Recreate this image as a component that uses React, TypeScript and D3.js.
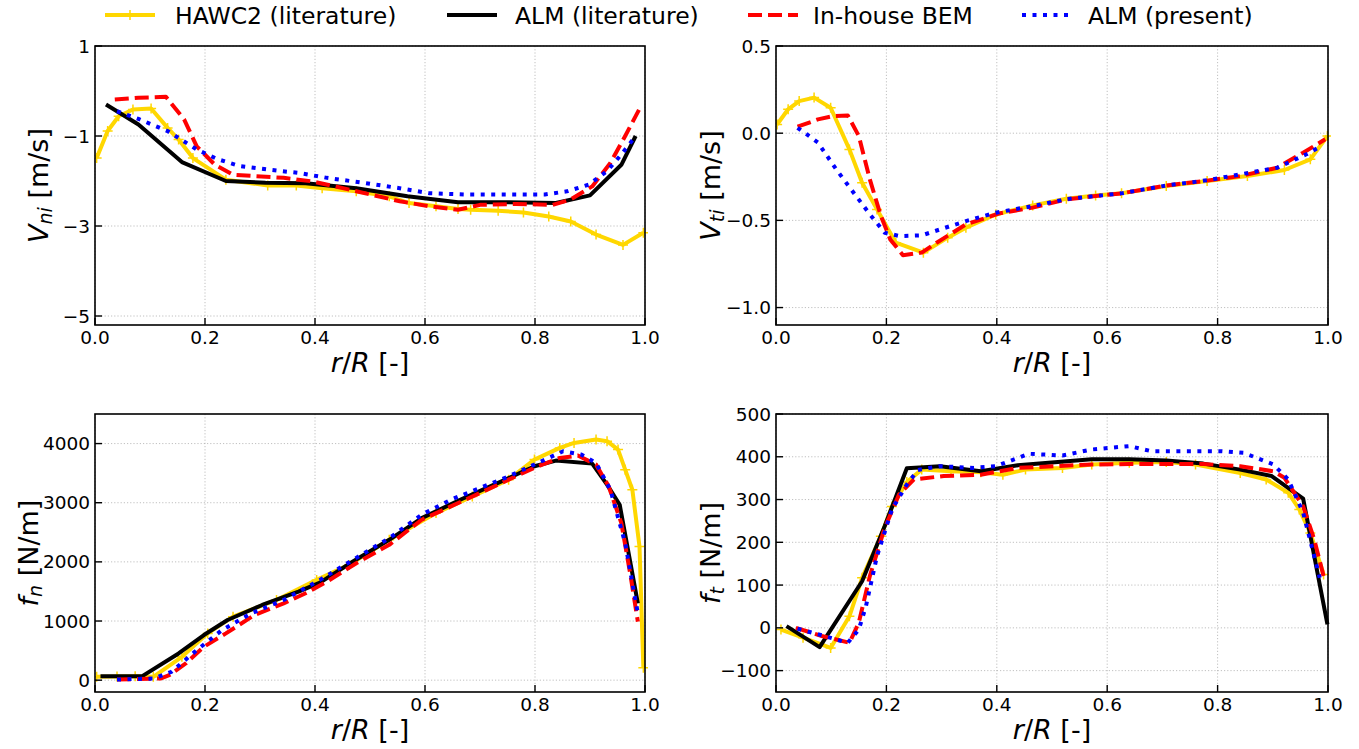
import React, { useEffect } from "react";
import * as d3 from "d3";

// ---------- DATA ----------
const xTicks = [0, 0.2, 0.4, 0.6, 0.8, 1.0];
const xTickLabels = ["0.0", "0.2", "0.4", "0.6", "0.8", "1.0"];

const seriesNames = ["HAWC2 (literature)", "ALM (literature)", "In-house BEM", "ALM (present)"];

// Vni
const vniHawcR = [0.003, 0.023, 0.043, 0.069, 0.102, 0.132, 0.152, 0.178, 0.238, 0.314, 0.366, 0.413, 0.475, 0.535, 0.571, 0.62, 0.66, 0.683, 0.733, 0.779, 0.825, 0.865, 0.911, 0.96, 0.997];
const vniHawcV = [-1.49, -0.89, -0.56, -0.41, -0.39, -0.82, -1.08, -1.49, -1.97, -2.1, -2.1, -2.16, -2.23, -2.34, -2.49, -2.56, -2.62, -2.64, -2.66, -2.7, -2.79, -2.9, -3.19, -3.42, -3.15];
const vniAlmLitR = [0.02, 0.079, 0.158, 0.238, 0.31, 0.383, 0.475, 0.568, 0.66, 0.752, 0.838, 0.9, 0.957, 0.983];
const vniAlmLitV = [-0.3, -0.745, -1.58, -2.0, -2.04, -2.05, -2.16, -2.34, -2.47, -2.47, -2.49, -2.32, -1.64, -1.0];
const vniBemR = [0.036, 0.079, 0.129, 0.162, 0.185, 0.218, 0.251, 0.343, 0.396, 0.469, 0.554, 0.607, 0.66, 0.7, 0.766, 0.832, 0.865, 0.904, 0.937, 0.964, 0.989];
const vniBemV = [-0.19, -0.15, -0.13, -0.63, -1.23, -1.64, -1.86, -1.93, -2.01, -2.21, -2.45, -2.56, -2.64, -2.53, -2.51, -2.53, -2.41, -2.12, -1.6, -1.0, -0.42];
const vniAlmR = [0.04, 0.079, 0.132, 0.185, 0.224, 0.264, 0.317, 0.37, 0.422, 0.488, 0.554, 0.607, 0.673, 0.752, 0.818, 0.858, 0.898, 0.931, 0.957, 0.983];
const vniAlmV = [-0.45, -0.62, -0.89, -1.3, -1.52, -1.67, -1.75, -1.82, -1.93, -2.04, -2.16, -2.27, -2.3, -2.3, -2.3, -2.23, -2.08, -1.78, -1.41, -1.0];

// Vti
const vtiHawcR = [0.002, 0.022, 0.042, 0.069, 0.099, 0.133, 0.156, 0.183, 0.217, 0.267, 0.311, 0.344, 0.398, 0.465, 0.526, 0.579, 0.626, 0.707, 0.781, 0.854, 0.921, 0.968, 0.999];
const vtiHawcV = [0.05, 0.137, 0.184, 0.204, 0.146, -0.093, -0.284, -0.437, -0.628, -0.685, -0.599, -0.542, -0.466, -0.414, -0.376, -0.357, -0.345, -0.303, -0.274, -0.246, -0.211, -0.15, -0.016];
const vtiBemR = [0.039, 0.076, 0.103, 0.13, 0.15, 0.17, 0.19, 0.207, 0.23, 0.264, 0.291, 0.344, 0.405, 0.465, 0.526, 0.579, 0.626, 0.707, 0.781, 0.841, 0.908, 0.955, 0.995];
const vtiBemV = [0.037, 0.079, 0.098, 0.102, -0.016, -0.265, -0.475, -0.609, -0.7, -0.685, -0.628, -0.523, -0.46, -0.427, -0.38, -0.36, -0.345, -0.3, -0.272, -0.246, -0.198, -0.112, -0.035];
const vtiAlmR = [0.039, 0.056, 0.076, 0.109, 0.136, 0.17, 0.197, 0.224, 0.264, 0.297, 0.344, 0.398, 0.465, 0.526, 0.579, 0.626, 0.707, 0.781, 0.841, 0.908, 0.961, 0.988];
const vtiAlmV = [0.031, -0.007, -0.054, -0.207, -0.322, -0.465, -0.571, -0.59, -0.586, -0.552, -0.504, -0.456, -0.418, -0.378, -0.36, -0.345, -0.3, -0.27, -0.236, -0.198, -0.121, -0.074];

// fn
const fnHawcR = [0.003, 0.04, 0.073, 0.106, 0.158, 0.205, 0.251, 0.33, 0.403, 0.462, 0.535, 0.62, 0.686, 0.752, 0.799, 0.845, 0.871, 0.911, 0.931, 0.951, 0.964, 0.977, 0.99, 0.997];
const fnHawcV = [56, 62, 68, 56, 395, 791, 1073, 1356, 1695, 1949, 2373, 2825, 3107, 3390, 3729, 3927, 4011, 4068, 4040, 3898, 3559, 3220, 2260, 210];
const fnAlmLitR = [0.01, 0.086, 0.152, 0.198, 0.241, 0.304, 0.37, 0.409, 0.469, 0.535, 0.594, 0.667, 0.739, 0.799, 0.838, 0.904, 0.931, 0.954, 0.987];
const fnAlmLitV = [68, 68, 452, 763, 1017, 1271, 1497, 1650, 2006, 2373, 2740, 3062, 3362, 3616, 3712, 3661, 3305, 2966, 1299];
const fnBemR = [0.04, 0.119, 0.135, 0.165, 0.198, 0.238, 0.29, 0.343, 0.383, 0.422, 0.475, 0.535, 0.594, 0.647, 0.7, 0.752, 0.805, 0.845, 0.878, 0.911, 0.934, 0.957, 0.974, 0.987];
const fnBemV = [11, 28, 85, 282, 565, 791, 1102, 1299, 1469, 1667, 1977, 2288, 2712, 2938, 3164, 3390, 3616, 3757, 3797, 3644, 3277, 2655, 1751, 989];
const fnAlmR = [0.04, 0.106, 0.139, 0.185, 0.231, 0.284, 0.343, 0.409, 0.469, 0.535, 0.594, 0.647, 0.7, 0.752, 0.805, 0.851, 0.884, 0.911, 0.937, 0.964, 0.987];
const fnAlmV = [11, 28, 141, 508, 847, 1130, 1356, 1695, 2034, 2401, 2797, 3051, 3249, 3446, 3672, 3870, 3814, 3672, 3220, 2316, 1130];

// ft
const ftHawcR = [0.009, 0.049, 0.099, 0.133, 0.156, 0.19, 0.21, 0.237, 0.264, 0.317, 0.371, 0.411, 0.452, 0.519, 0.572, 0.64, 0.707, 0.76, 0.841, 0.888, 0.928, 0.948, 0.968, 0.992];
const ftHawcV = [-4, -23, -47, 27, 117, 214, 284, 341, 370, 366, 364, 358, 370, 374, 382, 386, 388, 382, 362, 347, 316, 277, 222, 125];
const ftAlmLitR = [0.019, 0.079, 0.156, 0.197, 0.237, 0.297, 0.371, 0.438, 0.505, 0.572, 0.64, 0.707, 0.774, 0.841, 0.898, 0.955, 0.999];
const ftAlmLitV = [4, -45, 109, 238, 373, 378, 366, 380, 387, 394, 394, 391, 384, 370, 355, 302, 8];
const ftBemR = [0.036, 0.083, 0.133, 0.15, 0.17, 0.197, 0.223, 0.25, 0.304, 0.371, 0.438, 0.505, 0.572, 0.64, 0.707, 0.774, 0.841, 0.901, 0.921, 0.955, 0.975, 0.992];
const ftBemV = [0, -19, -35, 12, 121, 234, 312, 347, 355, 358, 374, 378, 382, 383, 383, 383, 378, 366, 351, 284, 207, 121];
const ftAlmR = [0.039, 0.079, 0.13, 0.15, 0.163, 0.183, 0.21, 0.237, 0.257, 0.297, 0.358, 0.398, 0.438, 0.458, 0.519, 0.572, 0.64, 0.68, 0.74, 0.807, 0.848, 0.901, 0.928, 0.955, 0.985];
const ftAlmV = [-2, -16, -35, -4, 51, 168, 277, 335, 369, 378, 374, 378, 397, 407, 403, 417, 425, 413, 413, 413, 409, 382, 347, 269, 117];

const vniTicks = [1, -1, -3, -5];
const vniTickLabels = ["1", "\u22121", "\u22123", "\u22125"];
const vtiTicks = [0.5, 0, -0.5, -1.0];
const vtiTickLabels = ["0.5", "0.0", "\u22120.5", "\u22121.0"];
const fnTicks = [0, 1000, 2000, 3000, 4000];
const fnTickLabels = ["0", "1000", "2000", "3000", "4000"];
const ftTicks = [-100, 0, 100, 200, 300, 400, 500];
const ftTickLabels = ["\u2212100", "0", "100", "200", "300", "400", "500"];

// ---------- STYLE ----------
const COLORS = ["#FFD700", "#000000", "#FF0000", "#0000FF"];
const FONT = "DejaVu Sans, sans-serif";

type Series = { r: number[]; v: number[] } | null;

const panels = [
  {
    box: { x0: 95, x1: 645, y0: 46, y1: 325 }, labelOffset: 47,
    yDomain: [-5.2, 1], ticks: vniTicks, tickLabels: vniTickLabels,
    base: "V", sub: "ni", unit: " [m/s]",
    series: [
      { r: vniHawcR, v: vniHawcV }, { r: vniAlmLitR, v: vniAlmLitV },
      { r: vniBemR, v: vniBemV }, { r: vniAlmR, v: vniAlmV },
    ] as Series[],
  },
  {
    box: { x0: 776, x1: 1328, y0: 46, y1: 325 }, labelOffset: 56,
    yDomain: [-1.1, 0.5], ticks: vtiTicks, tickLabels: vtiTickLabels,
    base: "V", sub: "ti", unit: " [m/s]",
    series: [
      { r: vtiHawcR, v: vtiHawcV }, null,
      { r: vtiBemR, v: vtiBemV }, { r: vtiAlmR, v: vtiAlmV },
    ] as Series[],
  },
  {
    box: { x0: 95, x1: 645, y0: 414, y1: 692 }, labelOffset: 57,
    yDomain: [-200, 4500], ticks: fnTicks, tickLabels: fnTickLabels,
    base: "f", sub: "n", unit: " [N/m]",
    series: [
      { r: fnHawcR, v: fnHawcV }, { r: fnAlmLitR, v: fnAlmLitV },
      { r: fnBemR, v: fnBemV }, { r: fnAlmR, v: fnAlmV },
    ] as Series[],
  },
  {
    box: { x0: 776, x1: 1328, y0: 414, y1: 692 }, labelOffset: 56,
    yDomain: [-150, 500], ticks: ftTicks, tickLabels: ftTickLabels,
    base: "f", sub: "t", unit: " [N/m]",
    series: [
      { r: ftHawcR, v: ftHawcV }, { r: ftAlmLitR, v: ftAlmLitV },
      { r: ftBemR, v: ftBemV }, { r: ftAlmR, v: ftAlmV },
    ] as Series[],
  },
];

const lineProps = (i: number) => {
  if (i === 0) return { stroke: COLORS[0], strokeWidth: 4, strokeDasharray: undefined };
  if (i === 1) return { stroke: COLORS[1], strokeWidth: 4, strokeDasharray: undefined };
  if (i === 2) return { stroke: COLORS[2], strokeWidth: 4, strokeDasharray: "14 6" };
  return { stroke: COLORS[3], strokeWidth: 4, strokeDasharray: "4 6.5" };
};

function Panel({ p, idx }: { p: (typeof panels)[number]; idx: number }) {
  const { x0, x1, y0, y1 } = p.box;
  const x = d3.scaleLinear().domain([0, 1]).range([x0, x1]);
  const y = d3.scaleLinear().domain(p.yDomain).range([y1, y0]);
  const line = d3.line<[number, number]>().x((d) => x(d[0])).y((d) => y(d[1]));
  const clipId = `clip${idx}`;
  const labelCx = x0 - p.labelOffset;
  const labelCy = (y0 + y1) / 2;
  const order = [0, 1, 2, 3];
  return (
    <g>
      <defs>
        <clipPath id={clipId}>
          <rect x={x0} y={y0 - 3} width={x1 - x0 + 3} height={y1 - y0 + 3} />
        </clipPath>
      </defs>
      {xTicks.map((t, i) => (
        <line key={"gx" + i} x1={x(t)} x2={x(t)} y1={y0} y2={y1} stroke="#b0b0b0" strokeWidth={0.8} strokeDasharray="1.2 2" />
      ))}
      {p.ticks.map((t, i) => (
        <line key={"gy" + i} x1={x0} x2={x1} y1={y(t)} y2={y(t)} stroke="#b0b0b0" strokeWidth={0.8} strokeDasharray="1.2 2" />
      ))}
      <g clipPath={`url(#${clipId})`}>
        {order.map((si) => {
          const s = p.series[si];
          if (!s) return null;
          const pts = s.r.map((r, k) => [r, s.v[k]] as [number, number]);
          const lp = lineProps(si);
          return (
            <g key={"s" + si}>
              <path d={line(pts) || ""} fill="none" stroke={lp.stroke} strokeWidth={lp.strokeWidth}
                strokeDasharray={lp.strokeDasharray} strokeLinejoin="round" />
              {si === 0 && pts.map((d, k) => (
                <path key={k} d={`M${x(d[0]) - 5},${y(d[1])}h10M${x(d[0])},${y(d[1]) - 5}v10`} stroke={COLORS[0]} strokeWidth={1.5} />
              ))}
            </g>
          );
        })}
      </g>
      <rect x={x0} y={y0} width={x1 - x0} height={y1 - y0} fill="none" stroke="#000" strokeWidth={1.6} />
      {xTicks.map((t, i) => (
        <g key={"xt" + i}>
          <line x1={x(t)} x2={x(t)} y1={y1} y2={y1 - 7} stroke="#000" strokeWidth={1.4} />
          <text x={x(t)} y={y1 + 19} textAnchor="middle" fontFamily={FONT} fontSize={18.5} fill="#000">{xTickLabels[i]}</text>
        </g>
      ))}
      {p.ticks.map((t, i) => (
        <g key={"yt" + i}>
          <line x1={x0} x2={x0 + 7} y1={y(t)} y2={y(t)} stroke="#000" strokeWidth={1.4} />
          <text x={x0 - 5} y={y(t) + 6.5} textAnchor="end" fontFamily={FONT} fontSize={18.5} fill="#000">{p.tickLabels[i]}</text>
        </g>
      ))}
      <text x={(x0 + x1) / 2} y={y1 + 47} textAnchor="middle" fontFamily={FONT} fontSize={27} fill="#000">
        <tspan fontStyle="italic">r</tspan>
        <tspan>/</tspan>
        <tspan fontStyle="italic">R</tspan>
        <tspan> [-]</tspan>
      </text>
      <text transform={`translate(${labelCx},${labelCy}) rotate(-90)`} textAnchor="middle" fontFamily={FONT} fontSize={27} fill="#000">
        <tspan fontStyle="italic">{p.base}</tspan>
        <tspan fontStyle="italic" fontSize={19} dy={4}>{p.sub}</tspan>
        <tspan dy={-4}>{p.unit}</tspan>
      </text>
    </g>
  );
}

function Legend() {
  const items = [
    { hx: 105, tx: 175 },
    { hx: 447, tx: 515 },
    { hx: 748, tx: 813 },
    { hx: 1022, tx: 1088 },
  ];
  const yc = 15;
  return (
    <g>
      {items.map((it, i) => {
        const lp = lineProps(i);
        return (
          <g key={i}>
            <line x1={it.hx} x2={it.hx + 50} y1={yc} y2={yc} stroke={lp.stroke} strokeWidth={lp.strokeWidth}
              strokeDasharray={lp.strokeDasharray} />
            {i === 0 && <path d={`M${it.hx + 25},${yc - 5}v10`} stroke={COLORS[0]} strokeWidth={1.5} />}
            <text x={it.tx} y={yc + 9} fontFamily={FONT} fontSize={23.5} fill="#000">{seriesNames[i]}</text>
          </g>
        );
      })}
    </g>
  );
}

export default function App() {
  useEffect(() => {
    document.body.style.margin = "0";
  }, []);
  return (
    <svg width={1359} height={749} style={{ display: "block", background: "#fff" }}>
      <rect x={0} y={0} width={1359} height={749} fill="#fff" />
      <Legend />
      {panels.map((p, i) => (
        <Panel key={i} p={p} idx={i} />
      ))}
    </svg>
  );
}
